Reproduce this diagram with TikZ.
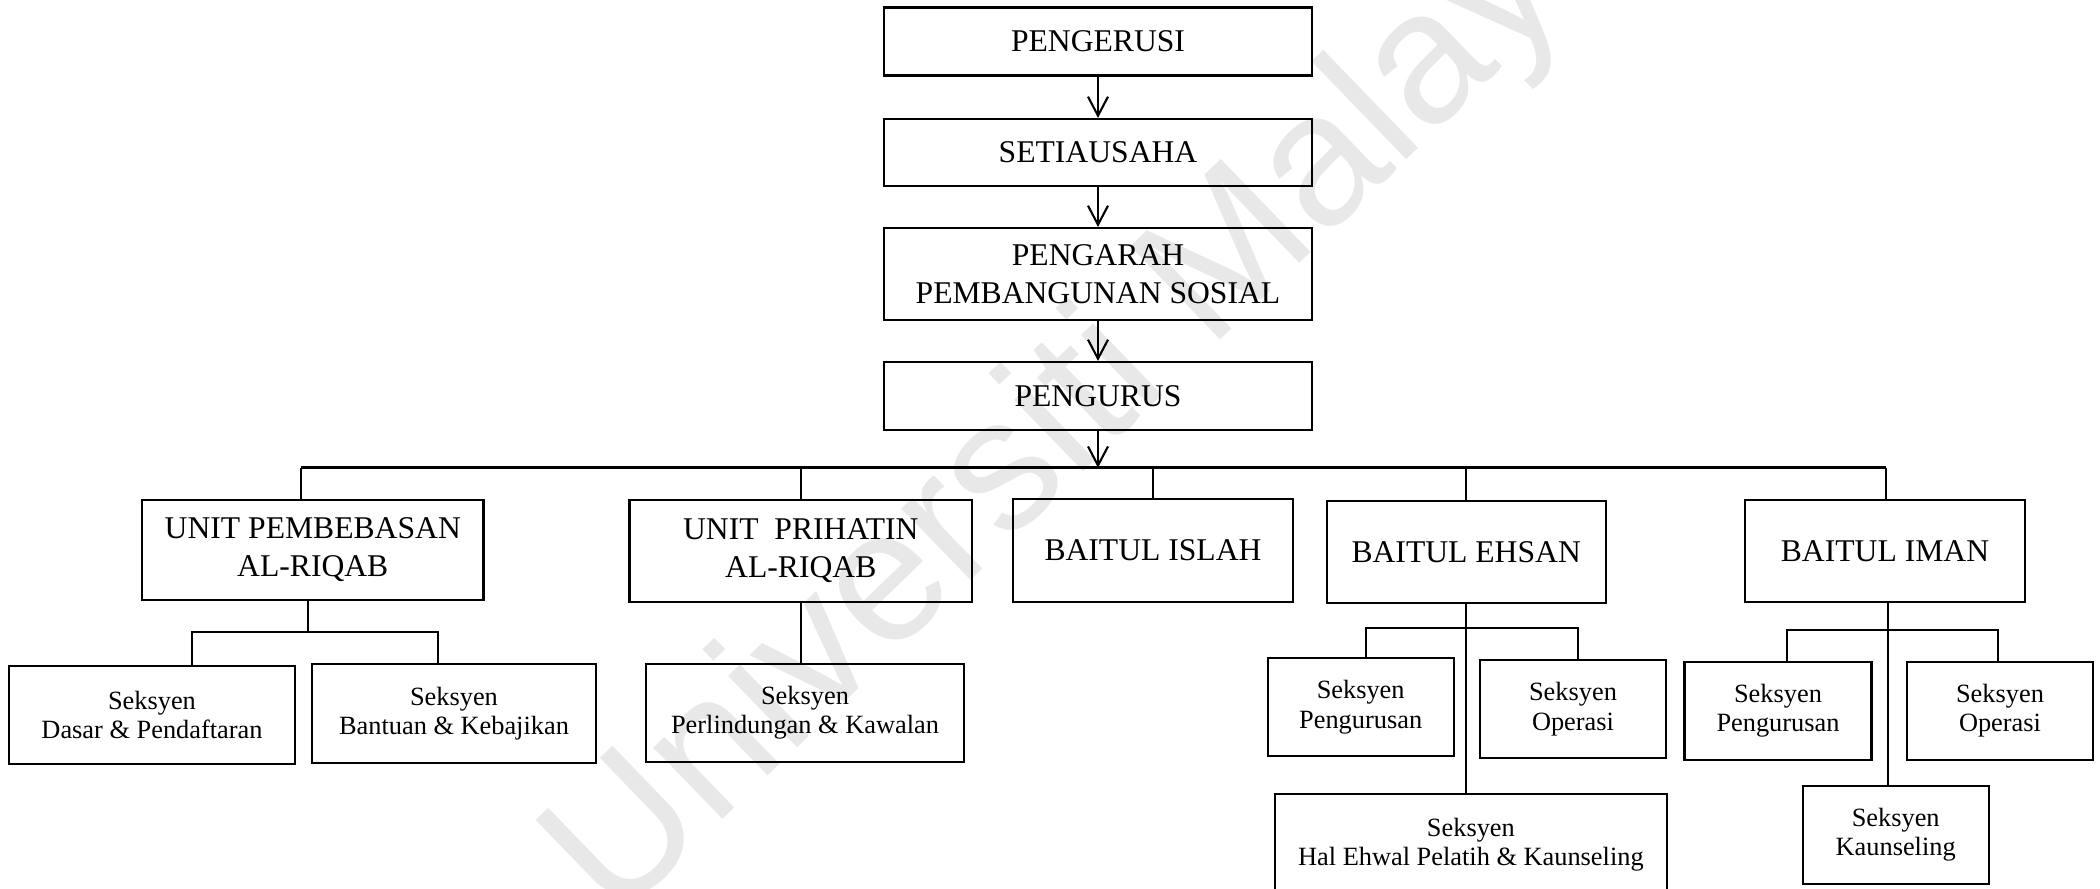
\documentclass[tikz,border=0pt]{standalone}
\usepackage{fontspec}
\setmainfont{Liberation Serif}
\newfontfamily\wmfont{Liberation Sans}
\usetikzlibrary{arrows.meta}

\begin{document}
\begin{tikzpicture}[
    box/.style={draw, line width=0.6pt, inner sep=0pt, align=center},
    big/.style={box, font=\fontsize{9}{10.8}\selectfont},
    small/.style={box, font=\fontsize{7.5}{8.3}\selectfont},
    arr/.style={-{Straight Barb[length=1.9mm,width=2mm]}, line width=0.6pt},
    tree/.style={line width=0.6pt}
]
    \useasboundingbox (0,0) rectangle (21,-8.89);
    \clip (0,0) rectangle (21,-8.89);
    % watermark
    \node[text=black!9, font=\wmfont\fontsize{53.5}{53.5}\selectfont, rotate=44] (wm) at (10.97,-3.91) {Universiti Malaya};

    % top chain
    \node[big, minimum width=4.28cm, minimum height=0.68cm] (pengerusi) at (10.98,-0.415) {PENGERUSI};
    \node[big, minimum width=4.28cm, minimum height=0.67cm] (setiausaha) at (10.98,-1.525) {SETIAUSAHA};
    \node[big, minimum width=4.28cm, minimum height=0.92cm] (pengarah) at (10.98,-2.74) {PENGARAH\\PEMBANGUNAN SOSIAL};
    \node[big, minimum width=4.28cm, minimum height=0.68cm] (pengurus) at (10.98,-3.96) {PENGURUS};
    \draw[arr] (pengerusi) -- (setiausaha);
    \draw[arr] (setiausaha) -- (pengarah);
    \draw[arr] (pengarah) -- (pengurus);

    % bus
    \coordinate (busL) at (3.01,-4.677);
    \coordinate (busR) at (18.86,-4.677);
    \draw[arr] (pengurus) -- (pengurus |- busL);
    \draw[tree, line width=0.8pt] (busL) -- (busR);

    % units
    \node[big, minimum width=3.415cm, minimum height=1.0cm] (pemb) at (3.128,-5.50) {UNIT PEMBEBASAN\\AL-RIQAB};
    \node[big, minimum width=3.425cm, minimum height=1.02cm] (prih) at (8.008,-5.51) {UNIT\ \ PRIHATIN\\AL-RIQAB};
    \node[big, minimum width=2.80cm, minimum height=1.03cm] (islah) at (11.53,-5.505) {BAITUL ISLAH};
    \node[big, minimum width=2.79cm, minimum height=1.02cm] (ehsan) at (14.662,-5.517) {BAITUL EHSAN};
    \node[big, minimum width=2.80cm, minimum height=1.02cm] (iman) at (18.85,-5.51) {BAITUL IMAN};
    \draw[tree] (busL) -- (busL |- pemb.north);
    \foreach \n in {prih,islah,ehsan}
        \draw[tree] (\n.north |- busL) -- (\n.north);
    \draw[tree] (busR) -- (busR |- iman.north);

    % al-riqab sections
    \node[small, minimum width=2.852cm, minimum height=0.98cm] (dasar) at (1.52,-7.15) {Seksyen\\Dasar \& Pendaftaran};
    \node[small, minimum width=2.84cm, minimum height=0.984cm] (bantuan) at (4.54,-7.135) {Seksyen\\Bantuan \& Kebajikan};
    \coordinate (jPemb) at (3.08,-6.317);
    \draw[tree] (jPemb |- pemb.south) -- (jPemb);
    \draw[tree] ([xshift=0.40cm]dasar.north) |- (jPemb) -| ([xshift=-0.16cm]bantuan.north);

    \node[small, minimum width=3.18cm, minimum height=0.98cm] (lindung) at (8.05,-7.13) {Seksyen\\Perlindungan \& Kawalan};
    \draw[tree] (prih) -- (prih |- lindung.north);

    % baitul ehsan
    \node[small, minimum width=1.862cm, minimum height=0.977cm] (eurus) at (13.607,-7.072) {Seksyen\\Pengurusan};
    \node[small, minimum width=1.86cm, minimum height=0.983cm] (eops) at (15.73,-7.092) {Seksyen\\Operasi};
    \node[small, minimum width=3.918cm, minimum height=1.0cm] (ehal) at (14.709,-8.443) {Seksyen\\Hal Ehwal Pelatih \& Kaunseling};
    \coordinate (jEhsan) at (14.665,-6.283);
    \draw[tree] (ehsan) -- (ehsan |- ehal.north);
    \draw[tree] ([xshift=0.053cm]eurus.north) |- (jEhsan) -| ([xshift=0.05cm]eops.north);

    % baitul iman
    \node[small, minimum width=1.87cm, minimum height=0.977cm] (iurus) at (17.78,-7.11) {Seksyen\\Pengurusan};
    \node[small, minimum width=1.855cm, minimum height=0.983cm] (iops) at (20.0,-7.11) {Seksyen\\Operasi};
    \node[small, minimum width=1.86cm, minimum height=0.983cm] (ikaun) at (18.957,-8.35) {Seksyen\\Kaunseling};
    \coordinate (jIman) at (18.877,-6.30);
    \draw[tree] (iman.south -| jIman) -- (jIman |- ikaun.north);
    \draw[tree] ([xshift=0.086cm]iurus.north) |- (jIman) -| ([xshift=-0.02cm]iops.north);
\end{tikzpicture}
\end{document}
